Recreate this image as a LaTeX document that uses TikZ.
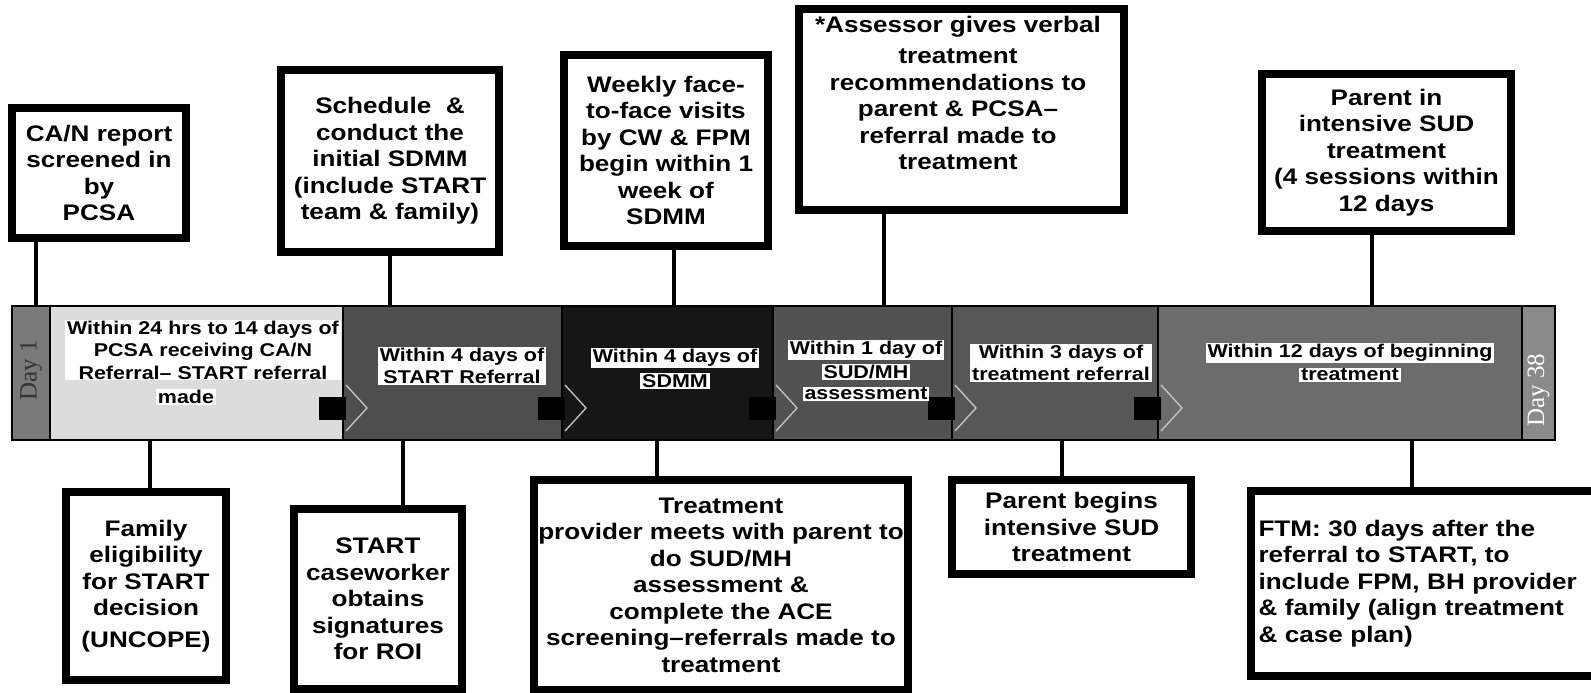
\documentclass[tikz,border=0pt]{standalone}
\usepackage{fontspec}
\setmainfont{Liberation Sans}[FakeStretch=1.16]
\newfontfamily\dayfont{Liberation Serif}
\newcommand\boxfnt{\fontsize{22.5}{26.5}\selectfont\bfseries}
\newcommand\barfnt{\fontsize{18.5}{22.5}\selectfont\bfseries}
\newcommand\dayfnt{\dayfont\fontsize{25}{25}\selectfont}
\definecolor{cdayone}{HTML}{7A7A7A}
\definecolor{csegone}{HTML}{DCDCDC}
\definecolor{csegtwo}{HTML}{4E4E4E}
\definecolor{csegthree}{HTML}{161616}
\definecolor{csegfour}{HTML}{525252}
\definecolor{csegfive}{HTML}{575757}
\definecolor{csegsix}{HTML}{6C6C6C}
\definecolor{cdayend}{HTML}{8A8A8A}
\definecolor{chead}{HTML}{C8C8C8}
\tikzset{
  box/.style={draw=black, line width=8pt, fill=white, inner sep=0pt, align=center, font=\boxfnt},
  txt/.style={inner sep=0pt, align=center, font=\boxfnt},
  conn/.style={line width=4pt},
  lbl/.style={fill=white, inner xsep=2pt, inner ysep=1pt, align=center, font=\barfnt},
  daylbl/.style={rotate=90, inner sep=0pt, font=\dayfnt},
  shaft/.style={fill=black},
  head/.style={draw=chead, line width=1.3pt},
}
\begin{document}
\begin{tikzpicture}[x=1pt,y=-1pt]
\useasboundingbox (0,0) rectangle (1591,693);
% timeline bar segments
\fill[cdayone] (12,306) rectangle (50,440);
\fill[csegone] (50,306) rectangle (343,440);
\fill[csegtwo] (343,306) rectangle (562,440);
\fill[csegthree] (562,306) rectangle (773,440);
\fill[csegfour] (773,306) rectangle (952,440);
\fill[csegfive] (952,306) rectangle (1158,440);
\fill[csegsix] (1158,306) rectangle (1522,440);
\fill[cdayend] (1522,306) rectangle (1555,440);
% block arrows between segments
\foreach \b in {343,562,773,952,1158}{
  \fill[shaft] (\b-24,397) rectangle (\b+3,420);
  \draw[head] (\b+3,385) -- (\b+24,408) -- (\b+3,431);
}
\node[draw, line width=1.6pt, minimum width=1543pt, minimum height=134pt, inner sep=0pt] (bar) at (783.5,373) {};
\foreach \b in {50,343,562,773,952,1158,1522}{
  \draw[line width=1.2pt] (\b,306) -- (\b,440);
}
% day labels
\node[daylbl, text=black!80] (dayone) at (31,370) {Day 1};
\node[daylbl, text=white] (dayend) at (1538.5,390) {Day 38};
% segment labels
\node[lbl] (s1) at (203,350) {Within 24 hrs to 14 days of\\PCSA receiving CA/N\\Referral– START referral};
\node[lbl] (s1m) at (186,397) {made};
\node[lbl] (s2) at (462,366) {Within 4 days of\\START Referral};
\node[lbl] (s3a) at (675,358) {Within 4 days of};
\node[lbl] (s3b) at (675,381) {SDMM};
\node[lbl] (s4a) at (866,350) {Within 1 day of};
\node[lbl] (s4b) at (866,372) {SUD/MH};
\node[lbl] (s4c) at (866,394) {assessment};
\node[lbl] (s5) at (1061,363) {Within 3 days of\\treatment referral};
\node[lbl] (s6a) at (1350,353) {Within 12 days of beginning};
\node[lbl] (s6b) at (1350,375) {treatment};
% top boxes
\node[box, minimum width=174pt, minimum height=130pt] (A) at (99,173) {CA/N report\\screened in\\by\\PCSA};
\node[box, minimum width=218pt, minimum height=182pt] (B) at (390,161) {Schedule\ \ \&\\conduct the\\initial SDMM\\(include START\\team \& family)};
\node[box, minimum width=204pt, minimum height=191pt] (C) at (666,150.5) {Weekly face-\\to-face visits\\by CW \& FPM\\begin within 1\\week of\\SDMM};
\node[box, minimum width=325pt, minimum height=201pt] (D) at (961.5,109.5) {};
\node[txt] (Dt) at (958,93) {*Assessor gives verbal\\[5pt]treatment\\recommendations to\\parent \& PCSA–\\referral made to\\treatment};
\node[box, minimum width=249pt, minimum height=157pt] (E) at (1386.5,152.5) {Parent in\\intensive SUD\\treatment\\(4 sessions within\\12 days};
% bottom boxes
\node[box, minimum width=160pt, minimum height=188pt] (F) at (146,586) {Family\\eligibility\\for START\\decision\\[5pt](UNCOPE)};
\node[box, minimum width=168pt, minimum height=180pt] (G) at (378,599) {START\\caseworker\\obtains\\signatures\\for ROI};
\node[box, minimum width=374pt, minimum height=210pt] (H) at (721,585) {Treatment\\provider meets with parent to\\do SUD/MH\\assessment \&\\complete the ACE\\screening–referrals made to\\treatment};
\node[box, minimum width=239pt, minimum height=94pt] (I) at (1071.5,527) {Parent begins\\intensive SUD\\treatment};
\node[box, minimum width=345pt, minimum height=185pt, text width=330pt, align=left] (J) at (1423.5,583.5) {FTM: 30 days after the\\referral to START, to\\include FPM, BH provider\\\& family (align treatment\\\& case plan)};
% connectors
\coordinate (cA) at (36,0);
\coordinate (cB) at (390,0);
\coordinate (cC) at (674,0);
\coordinate (cD) at (884,0);
\coordinate (cE) at (1372,0);
\coordinate (cF) at (150,0);
\coordinate (cG) at (403,0);
\coordinate (cH) at (657,0);
\coordinate (cI) at (1062,0);
\coordinate (cJ) at (1412,0);
\draw[conn] (cA |- A.south) -- (cA |- bar.north);
\draw[conn] (cB |- B.south) -- (cB |- bar.north);
\draw[conn] (cC |- C.south) -- (cC |- bar.north);
\draw[conn] (cD |- D.south) -- (cD |- bar.north);
\draw[conn] (cE |- E.south) -- (cE |- bar.north);
\draw[conn] (cF |- bar.south) -- (cF |- F.north);
\draw[conn] (cG |- bar.south) -- (cG |- G.north);
\draw[conn] (cH |- bar.south) -- (cH |- H.north);
\draw[conn] (cI |- bar.south) -- (cI |- I.north);
\draw[conn] (cJ |- bar.south) -- (cJ |- J.north);
\end{tikzpicture}
\end{document}
